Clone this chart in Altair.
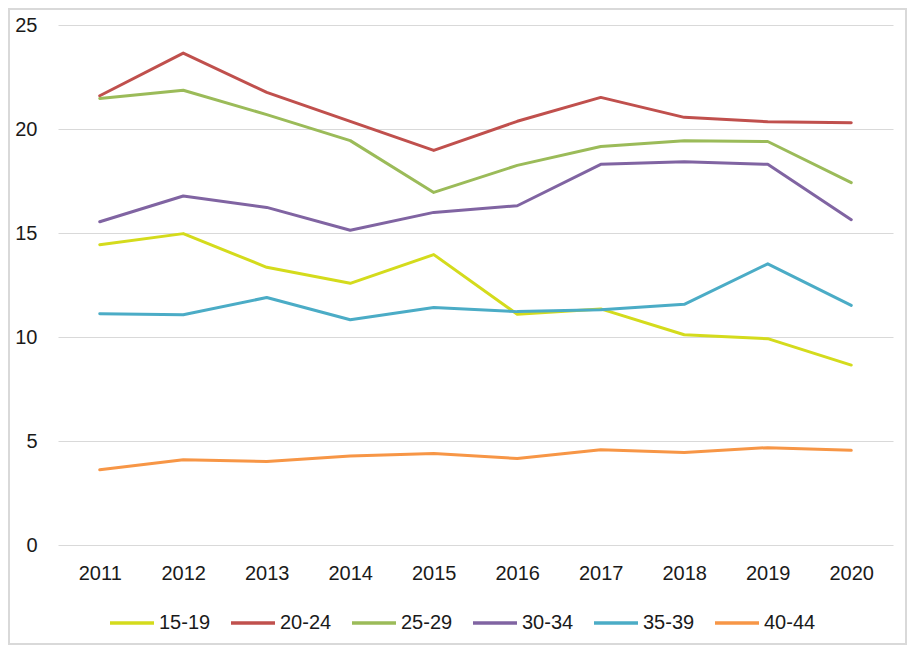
import altair as alt
import pandas as pd

years = [2011, 2012, 2013, 2014, 2015, 2016, 2017, 2018, 2019, 2020]
groups = ["15-19", "20-24", "25-29", "30-34", "35-39", "40-44"]
colors = ["#d4db1c", "#c0504d", "#9bbb59", "#8064a2", "#4bacc6", "#f79646"]

g15_19 = [14.44, 14.97, 13.35, 12.58, 13.96, 11.09, 11.35, 10.11, 9.92, 8.65]
g20_24 = [21.60, 23.65, 21.76, 20.37, 18.97, 20.37, 21.52, 20.56, 20.35, 20.30]
g25_29 = [21.47, 21.86, 20.69, 19.44, 16.95, 18.25, 19.16, 19.44, 19.40, 17.42]
g30_34 = [15.54, 16.78, 16.23, 15.13, 15.99, 16.31, 18.30, 18.43, 18.30, 15.64]
g35_39 = [11.12, 11.07, 11.90, 10.83, 11.42, 11.22, 11.31, 11.57, 13.52, 11.52]
g40_44 = [3.62, 4.10, 4.02, 4.28, 4.40, 4.16, 4.58, 4.45, 4.68, 4.55]

series = [g15_19, g20_24, g25_29, g30_34, g35_39, g40_44]

rows = []
for name, vals in zip(groups, series):
    for yr, v in zip(years, vals):
        rows.append({"year": str(yr), "group": name, "value": v})
df = pd.DataFrame(rows)

FONT = "Liberation Sans"
W, H = 835, 520

lines = (
    alt.Chart(df)
    .mark_line(strokeWidth=3, strokeCap="round", strokeJoin="round")
    .encode(
        x=alt.X("year:O", title=None, scale=alt.Scale(type="point", padding=0.5),
                axis=alt.Axis(labelAngle=0, ticks=False, domain=False, grid=False,
                              labelPadding=18)),
        y=alt.Y("value:Q", title=None, scale=alt.Scale(domain=[0, 25]),
                axis=alt.Axis(values=[0, 5, 10, 15, 20, 25], ticks=False, domain=False,
                              gridColor="#d9d9d9", gridWidth=1, labelPadding=21)),
        color=alt.Color("group:N", sort=groups,
                        scale=alt.Scale(domain=groups, range=colors),
                        legend=alt.Legend(title=None, orient="none", direction="horizontal",
                                          legendX=50, legendY=574,
                                          symbolType="stroke", symbolSize=1936,
                                          symbolStrokeWidth=3.5, columnPadding=13,
                                          labelOffset=3)),
    )
)

frame = (
    alt.Chart(pd.DataFrame({"a": [0]}))
    .mark_rect(fill=None, stroke="#d9d9d9", strokeWidth=2, clip=False)
    .encode(x=alt.value(-49), x2=alt.value(W + 13), y=alt.value(-16), y2=alt.value(H + 99))
)

chart = (
    alt.layer(frame, lines)
    .properties(width=W, height=H, autosize=alt.AutoSizeParams(type="none"),
                padding={"left": 50, "top": 17, "right": 14, "bottom": 100})
    .configure(font=FONT)
    .configure_view(stroke=None)
    .configure_axis(labelFont=FONT, labelFontSize=20, labelColor="#1a1a1a")
    .configure_legend(labelFont=FONT, labelFontSize=20, labelColor="#1a1a1a")
)

chart.save("out.html", embed_options={"renderer": "svg", "actions": False})
